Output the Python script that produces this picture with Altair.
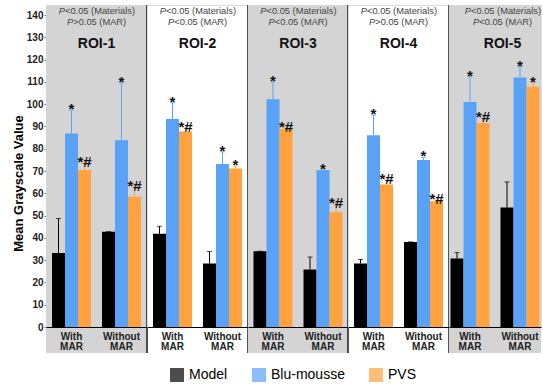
import altair as alt
import pandas as pd

# ---- data ----
rois = ["ROI-1", "ROI-2", "ROI-3", "ROI-4", "ROI-5"]
conditions = ["With MAR", "Without MAR"]
materials = ["Model", "Blu-mousse", "PVS"]
colors = ["#000000", "#5AA2F5", "#FFA23F"]

# mean grayscale value per ROI: [Model, Blu-mousse, PVS]
means_with = [[33.2, 86.8, 70.4], [41.8, 93.3, 87.7], [34.0, 102.2, 88.8],
              [28.5, 86.1, 63.9], [30.7, 101.0, 91.6]]
means_without = [[42.8, 83.8, 58.4], [28.5, 73.1, 71.1], [25.8, 70.4, 51.5],
                 [38.2, 74.9, 56.4], [53.6, 112.0, 107.8]]
# standard deviations (upper half drawn)
sd_with = [[15.5, 10.5, 3.1], [3.4, 7.3, 1.7], [0.0, 7.8, 0.6],
           [1.8, 9.0, 2.0], [2.7, 11.3, 2.0]]
sd_without = [[0.0, 25.8, 4.3], [5.4, 5.5, 1.1], [5.6, 0.0, 3.9],
              [0.0, 1.2, 0.6], [11.5, 4.8, 1.9]]
# significance markers
marks_with = [["", "*", "*#"], ["", "*", "*#"], ["", "*", "*#"],
              ["", "*", "*#"], ["", "*", "*#"]]
marks_without = [["", "*", "*#"], ["", "*", "*"], ["", "*", "*#"],
                 ["", "*", "*#"], ["", "*", "*"]]
p_materials = ["<0.05", "<0.05", "<0.05", "<0.05", "<0.05"]
p_mar = [">0.05", "<0.05", "<0.05", ">0.05", "<0.05"]
shaded = [True, False, True, False, True]

rows = []
for i, roi in enumerate(rois):
    for cond, means, sds, notes in [
        (conditions[0], means_with, sd_with, marks_with),
        (conditions[1], means_without, sd_without, marks_without),
    ]:
        for j, mat in enumerate(materials):
            rows.append({
                "roi": roi, "condition": cond, "material": mat,
                "mean": means[i][j], "upper": means[i][j] + sds[i][j],
                "note": notes[i][j],
            })
df = pd.DataFrame(rows)

# ---- layout ----
widths = [101, 101, 100, 101, 92]
text_center = [50.5, 50.5, 50, 50.5, 53.5]
PLOT_H = 322
BAND_BOTTOM = 348
GREY = "#D4D4D4"
LEFT, TOP = 46, 5

color = alt.Color(
    "material:N",
    scale=alt.Scale(domain=materials, range=colors),
    legend=alt.Legend(orient="none", legendX=124, legendY=363,
                      direction="horizontal", title=None,
                      symbolType="square", symbolSize=196, symbolStrokeWidth=0,
                      labelFontSize=14, labelOffset=5, columnPadding=24,
                      # a little extra room after the first entry
                      labelExpr="datum.label == 'Model' ? datum.label + '\u00a0\u00a0\u00a0\u00a0' : datum.label"),
)

y_axis = alt.Axis(
    values=list(range(0, 141, 10)), title="Mean Grayscale Value",
    titleFontSize=13, titleFontWeight="bold", titleX=-28, titleY=178,
    titleAngle=270, titleAlign="center", titleBaseline="middle",
    labelFontSize=10, labelFontWeight="bold", labelColor="#222",
    labelOverlap=False, tickSize=2, labelPadding=1,
    domainColor="#999", tickColor="#777", grid=False,
)


def panel(i):
    w = widths[i]
    d = df[df.roi == rois[i]]
    one = pd.DataFrame({"roi": [rois[i]], "pm": [p_materials[i] + " (Materials)"],
                        "pr": [p_mar[i] + " (MAR)"]})
    x = alt.X(
        "condition:N", sort=conditions,
        scale=alt.Scale(domain=conditions, paddingInner=0.22,
                        paddingOuter=(w - 89) / 100),
        axis=alt.Axis(title=None, labelAngle=0,
                      labelExpr="split(datum.label, ' ')",
                      labelFontSize=10, labelFontWeight="bold",
                      labelColor="#222", labelLineHeight=10, ticks=False,
                      domainColor="#000", labelPadding=4, zindex=1),
    )
    xo = alt.XOffset("material:N", sort=materials,
                     scale=alt.Scale(domain=materials, paddingInner=0,
                                     paddingOuter=0))
    yscale = alt.Scale(domain=[0, 144.5], nice=False)
    yax = y_axis if i == 0 else None

    base = alt.Chart(d).encode(x=x, xOffset=xo)
    layers = []
    if shaded[i]:
        layers.append(alt.Chart(one).mark_rect(color=GREY).encode(
            x=alt.value(0), x2=alt.value(w),
            y=alt.value(0), y2=alt.value(BAND_BOTTOM)))
    layers.append(base.mark_bar().encode(
        y=alt.Y("mean:Q", scale=yscale, axis=yax), color=color))
    layers.append(base.mark_rule(strokeWidth=1).encode(
        y=alt.Y("mean:Q", scale=yscale, axis=yax), y2="upper:Q", color=color))
    layers.append(base.mark_tick(orient="horizontal", size=5, thickness=1).encode(
        y=alt.Y("upper:Q", scale=yscale, axis=yax), color=color))
    layers.append(base.mark_text(fontSize=15, fontWeight="bold",
                                 baseline="alphabetic", dy=4, color="#111").encode(
        y=alt.Y("upper:Q", scale=yscale, axis=yax), text="note:N"))

    # two-line test summary with an italic "P"
    cx = text_center[i]
    txt = dict(fontSize=9.3, color="#444", baseline="middle")
    for row_y, split_dx, field in [(6, -31.5, "pm:N"), (16.7, -23.3, "pr:N")]:
        layers.append(alt.Chart(one).mark_text(text="P", align="right",
                                              fontStyle="italic", dx=split_dx,
                                              **txt).encode(
            x=alt.value(cx), y=alt.value(row_y)))
        layers.append(alt.Chart(one).mark_text(align="left", dx=split_dx,
                                              **txt).encode(
            x=alt.value(cx), y=alt.value(row_y), text=field))
    layers.append(alt.Chart(one).mark_text(fontSize=14, fontWeight="bold",
                                          baseline="middle", color="#111").encode(
        x=alt.value(cx), y=alt.value(39), text="roi:N"))
    if i < len(rois) - 1:
        layers.append(alt.Chart(one).mark_rule(color="#1a1a1a", strokeWidth=1.5).encode(
            x=alt.value(w), y=alt.value(0), y2=alt.value(BAND_BOTTOM)))

    return alt.layer(*layers).properties(width=w, height=PLOT_H)


# fixed canvas: origin of the panel grid sits at (LEFT, TOP) on a 543x385 page
chart = (
    alt.hconcat(*[panel(i) for i in range(len(rois))], spacing=0, bounds="flush")
    .resolve_scale(x="independent", xOffset="independent", color="shared")
    .resolve_legend(color="shared")
    .properties(
        autosize=alt.AutoSizeParams(type="none"),
        padding={"left": LEFT, "top": TOP, "right": 543 - LEFT, "bottom": 385 - TOP},
    )
    .configure_view(stroke=None)
    .configure(font="Liberation Sans")
)

chart.save("out.html", embed_options={"renderer": "svg", "actions": False})
